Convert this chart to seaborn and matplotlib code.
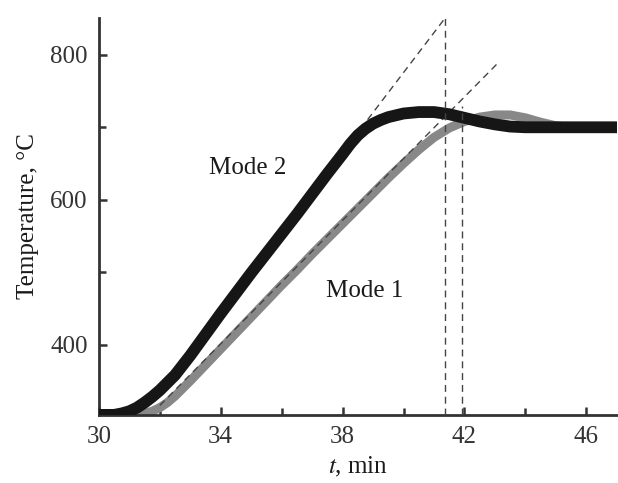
import numpy as np
import pandas as pd
import matplotlib
matplotlib.use("Agg")
import matplotlib.pyplot as plt
import seaborn as sns

# Mode 2 (black) and Mode 1 (gray) heating curves
time_mode2 = [30.0, 30.5, 30.75, 31.0, 31.25, 31.5, 31.75, 32.0, 32.5, 33.0, 33.5,
              34.0, 34.5, 35.0, 35.5, 36.0, 36.5, 37.0, 37.5, 38.0, 38.25, 38.5,
              38.75, 39.0, 39.25, 39.5, 40.0, 40.5, 41.0, 41.5, 42.0, 42.5, 43.0,
              43.5, 44.0, 45.0, 46.0, 47.0]
temp_mode2 = [303, 303, 305, 308, 313, 320, 328, 337, 358, 385, 414,
              443, 471, 499, 526, 553, 580, 608, 636, 663, 677, 689,
              698, 705, 710, 714, 719, 721, 721, 718, 713, 708, 704,
              701, 700, 700, 700, 700]

time_mode1 = [30.0, 31.0, 31.5, 31.75, 32.0, 32.25, 32.5, 33.0, 33.5, 34.0, 34.5,
              35.0, 35.5, 36.0, 36.5, 37.0, 37.5, 38.0, 38.5, 39.0, 39.5, 40.0,
              40.5, 41.0, 41.5, 42.0, 42.5, 43.0, 43.5, 44.0, 44.5, 45.0, 45.5,
              46.0, 47.0]
temp_mode1 = [303, 303, 305, 308, 313, 320, 329, 350, 372, 394, 416,
              438, 460, 482, 503, 525, 546, 567, 588, 609, 630, 650,
              669, 686, 699, 708, 714, 717, 717, 713, 707, 702, 700,
              700, 700]

# tangent lines (start, end) and the vertical markers
tangent2_t = [36.0, 41.37]
tangent2_T = [555, 851]
tangent1_t = [32.0, 43.13]
tangent1_T = [316, 790]
vline1_t, vline1_T = 41.37, (303, 851)
vline2_t, vline2_T = 41.93, (303, 730)

mode_labels = ["Mode 2", "Mode 1"]
label_pos = [(33.6, 644), (37.45, 474)]

sns.set_style("ticks")
plt.rcParams["font.family"] = ["Liberation Serif", "DejaVu Serif"]
plt.rcParams["mathtext.fontset"] = "stix"

fig = plt.figure(figsize=(6.18, 4.83), dpi=100)
ax = fig.add_axes([0.160, 0.141, 0.838, 0.822])

df1 = pd.DataFrame({"t": time_mode1, "T": temp_mode1})
df2 = pd.DataFrame({"t": time_mode2, "T": temp_mode2})

dash = dict(color="#444444", linewidth=1.0, linestyle=(0, (5, 3.5)))

sns.lineplot(data=df1, x="t", y="T", ax=ax, color="#888888", linewidth=6.5,
             zorder=2, sort=False)
ax.plot(tangent1_t, tangent1_T, zorder=3, **dash)
ax.plot(tangent2_t, tangent2_T, zorder=3, **dash)
sns.lineplot(data=df2, x="t", y="T", ax=ax, color="#161616", linewidth=8.5,
             zorder=4, sort=False)
ax.plot([vline1_t, vline1_t], vline1_T, zorder=5, **dash)
ax.plot([vline2_t, vline2_t], vline2_T, zorder=5, **dash)

for txt, (x, y) in zip(mode_labels, label_pos):
    ax.text(x, y, txt, fontsize=18, ha="left", va="center", color="#1a1a1a")

ax.set_xlim(30, 47)
ax.set_ylim(303, 851)
ax.set_xticks([30, 34, 38, 42, 46])
ax.set_xticks([32, 36, 40, 44], minor=True)
ax.set_yticks([400, 600, 800])
ax.set_yticks([500, 700], minor=True)

ax.set_xlabel("$t$, min", fontsize=18, color="#1a1a1a", labelpad=5)
ax.set_ylabel("Temperature, °C", fontsize=18, color="#1a1a1a", labelpad=8)

sns.despine(ax=ax)
for side in ["left", "bottom"]:
    ax.spines[side].set_linewidth(2.0)
    ax.spines[side].set_color("#333333")
ax.tick_params(which="major", direction="in", length=6, width=1.8,
               color="#333333", labelsize=18, labelcolor="#333333", pad=8)
ax.tick_params(which="minor", direction="in", length=5, width=1.8,
               color="#333333")

fig.savefig("out.png", dpi=100)
